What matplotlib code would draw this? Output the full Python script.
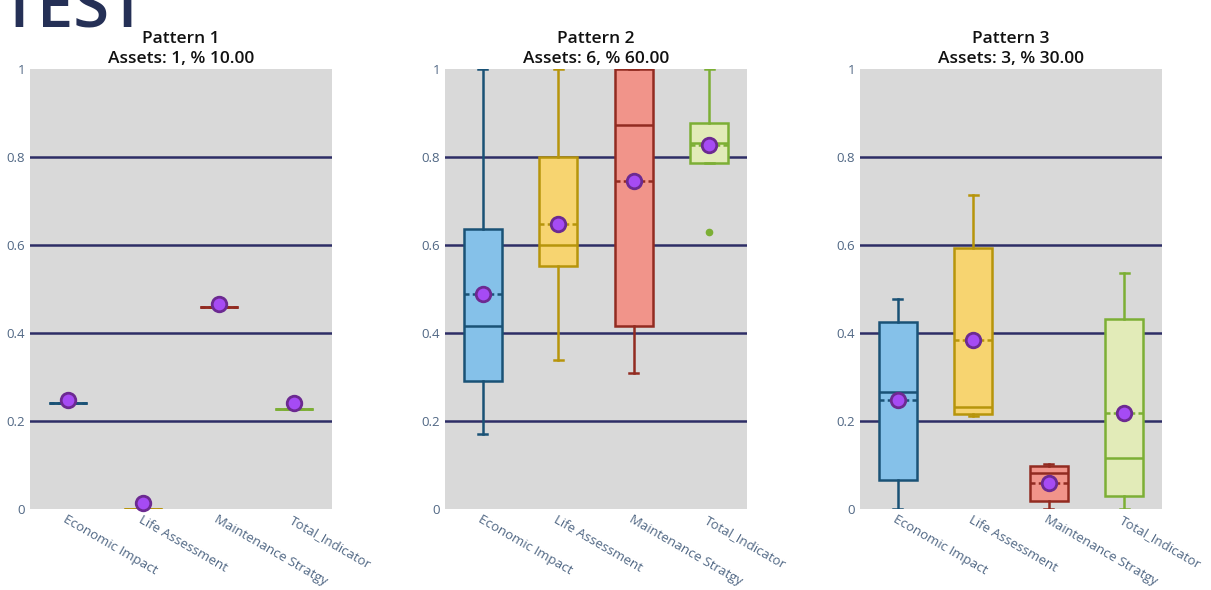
import numpy as np
import matplotlib
matplotlib.use("Agg")
from matplotlib import pyplot as plt

plt.rcParams['font.family'] = ['Open Sans', 'DejaVu Sans']

categories = ["Economic Impact", "Life Assessment", "Maintenance Stratgy", "Total_Indicator"]
titles = ["Pattern 1<br>Assets: 1, % 10.00", "Pattern 2<br>Assets: 6, % 60.00", "Pattern 3<br>Assets: 3, % 30.00"]

# box stats per pattern: one list per category
p1_low = [0.242, 0.0, 0.46, 0.227]
p1_q1 = [0.242, 0.0, 0.46, 0.227]
p1_med = [0.242, 0.0, 0.46, 0.227]
p1_q3 = [0.242, 0.0, 0.46, 0.227]
p1_high = [0.242, 0.0, 0.46, 0.227]
p1_mean = [0.242, 0.0, 0.46, 0.227]
p1_dot = [0.248, 0.013, 0.466, 0.240]
p1_out = [[], [], [], []]

p2_low = [0.17, 0.338, 0.31, 0.787]
p2_q1 = [0.292, 0.553, 0.415, 0.787]
p2_med = [0.417, 0.60, 0.873, 0.832]
p2_q3 = [0.637, 0.80, 1.0, 0.877]
p2_high = [1.0, 1.0, 1.0, 1.0]
p2_mean = [0.488, 0.648, 0.745, 0.827]
p2_dot = [0.488, 0.648, 0.745, 0.827]
p2_out = [[], [], [], [0.63]]

p3_low = [0.0, 0.211, 0.0, 0.0]
p3_q1 = [0.066, 0.216, 0.019, 0.030]
p3_med = [0.266, 0.231, 0.082, 0.117]
p3_q3 = [0.424, 0.593, 0.098, 0.432]
p3_high = [0.478, 0.714, 0.103, 0.537]
p3_mean = [0.247, 0.385, 0.060, 0.218]
p3_dot = [0.247, 0.385, 0.060, 0.218]
p3_out = [[], [], [], []]

fills = ["#85C1E9", "#F7D470", "#F1948A", "#E2EBB8"]
edges = ["#1A5276", "#B7950B", "#922B21", "#7CAF35"]

patterns = [
    (p1_low, p1_q1, p1_med, p1_q3, p1_high, p1_mean, p1_dot, p1_out),
    (p2_low, p2_q1, p2_med, p2_q3, p2_high, p2_mean, p2_dot, p2_out),
    (p3_low, p3_q1, p3_med, p3_q3, p3_high, p3_mean, p3_dot, p3_out),
]

fig = plt.figure(figsize=(12.11, 5.90), dpi=100)
lefts = [30, 445, 860]
W, H = 1211, 590

for k, pat in enumerate(patterns):
    low, q1, med, q3, high, mean, dot, out = pat
    ax = fig.add_axes([lefts[k] / W, 1 - 509 / H, 302 / W, 440 / H])
    ax.set_facecolor("#D9D9D9")
    for g in [0.2, 0.4, 0.6, 0.8]:
        ax.axhline(g, color="#2E2E66", lw=1.8, zorder=1)

    for i in range(len(categories)):
        st = dict(whislo=low[i], q1=q1[i], med=med[i], q3=q3[i], whishi=high[i],
                  mean=mean[i], fliers=out[i])
        ec = edges[i]
        ax.bxp([st], positions=[i], widths=0.5, capwidths=0.12, patch_artist=True,
               showmeans=True, meanline=True, showfliers=True,
               boxprops=dict(facecolor=fills[i], edgecolor=ec, lw=1.8),
               medianprops=dict(color=ec, lw=1.8),
               whiskerprops=dict(color=ec, lw=1.8),
               capprops=dict(color=ec, lw=1.8),
               meanprops=dict(color=ec, lw=1.8, linestyle=(0, (2, 1.3))),
               flierprops=dict(marker="o", markerfacecolor=ec, markeredgecolor=ec,
                               markersize=4.5),
               zorder=3)
    ax.scatter(range(len(categories)), dot, s=110, color="#A64BF4",
               edgecolor="#6C2A91", linewidth=2, zorder=5, clip_on=False)

    ax.set_xlim(-0.5, 3.5)
    ax.set_ylim(0, 1)
    ax.set_yticks([0, 0.2, 0.4, 0.6, 0.8, 1])
    ax.set_yticklabels(["0", "0.2", "0.4", "0.6", "0.8", "1"])
    ax.set_xticks(range(len(categories)))
    ax.set_xticklabels(categories, rotation=-30, ha="left", va="top",
                       rotation_mode="anchor")
    ax.tick_params(axis="x", pad=3)
    ax.tick_params(length=0, colors="#506784", labelsize=9.5)
    for sp in ax.spines.values():
        sp.set_visible(False)
    t1, t2 = titles[k].split("<br>")
    ax.set_title(t1 + "\n" + t2, fontsize=12.5, fontweight="semibold",
                 color="#111111", pad=4, linespacing=1.35)

fig.text(0.0, 1 - 28 / H, "TEST", fontsize=47, color="#253056",
         ha="left", va="baseline", fontweight="semibold")

fig.savefig("out.png", dpi=100)
